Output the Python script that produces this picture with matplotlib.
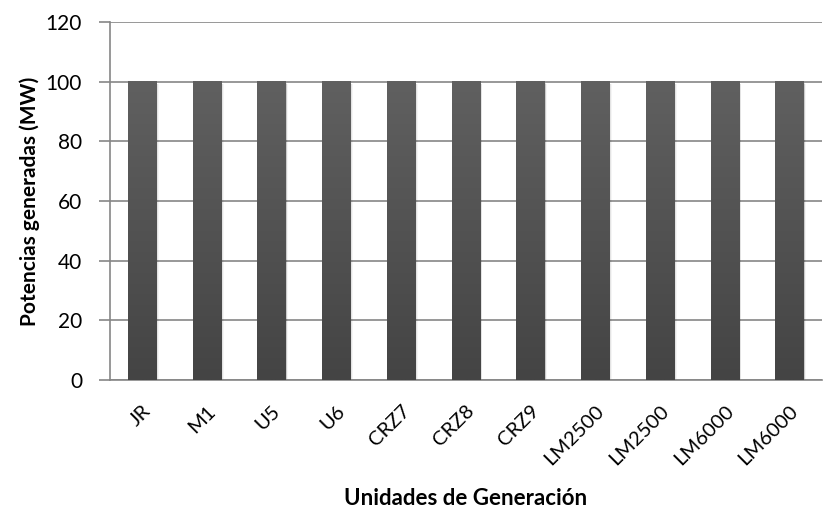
import numpy as np
import matplotlib.pyplot as plt
from matplotlib.colors import LinearSegmentedColormap

plt.rcParams['font.family'] = ['Lato', 'DejaVu Sans']

unidades = ["JR", "M1", "U5", "U6", "CRZ7", "CRZ8", "CRZ9",
            "LM2500", "LM2500", "LM6000", "LM6000"]
potencias = [100, 100, 100, 100, 100, 100, 100, 100, 100, 100, 100]
yticks = [0, 20, 40, 60, 80, 100, 120]

fig = plt.figure(figsize=(8.26, 5.15), dpi=100)
ax = fig.add_axes([0.133, 0.262, 0.862, 0.695])

x = np.arange(len(unidades))
bars = ax.bar(x, potencias, width=0.44, color="none", zorder=3)

# gradient fill + soft shadow like the Excel style
cmap = LinearSegmentedColormap.from_list("g", ["#444444", "#606060"])
grad = np.linspace(0, 1, 256).reshape(-1, 1)
for b in bars:
    x0, y0 = b.get_x(), b.get_y()
    w, h = b.get_width(), b.get_height()
    for i, a in enumerate([0.10, 0.07, 0.04]):
        off = 0.012 * (i + 1)
        ax.add_patch(plt.Rectangle((x0 + off, y0), w, h - 0.3 * (i + 1),
                                   color="black", alpha=a, lw=0, zorder=2))
    ax.imshow(grad, cmap=cmap, aspect="auto", origin="lower",
              extent=(x0, x0 + w, y0, y0 + h), zorder=3)

ax.set_xlim(-0.5, len(unidades) - 0.5)
ax.set_ylim(0, 120)
ax.set_yticks(yticks)
ax.set_xticks(x)
ax.set_xticklabels(unidades, rotation=45, ha="right", rotation_mode="anchor",
                   fontsize=14.5)
ax.tick_params(axis="y", labelsize=15, length=8, width=1.2, color="#868686",
               pad=12)
ax.tick_params(axis="x", length=0, pad=16)

ax.grid(axis="y", color="#868686", lw=1.2, zorder=1)
for s in ["top", "right"]:
    ax.spines[s].set_visible(False)
for s in ["left", "bottom"]:
    ax.spines[s].set_color("#868686")
    ax.spines[s].set_linewidth(1.2)

ax.set_ylabel("Potencias generadas (MW)", fontsize=15, fontweight="bold",
              labelpad=4)
ax.set_xlabel("Unidades de Generación", fontsize=16, fontweight="bold",
              labelpad=14)

fig.savefig("out.png", dpi=100)
